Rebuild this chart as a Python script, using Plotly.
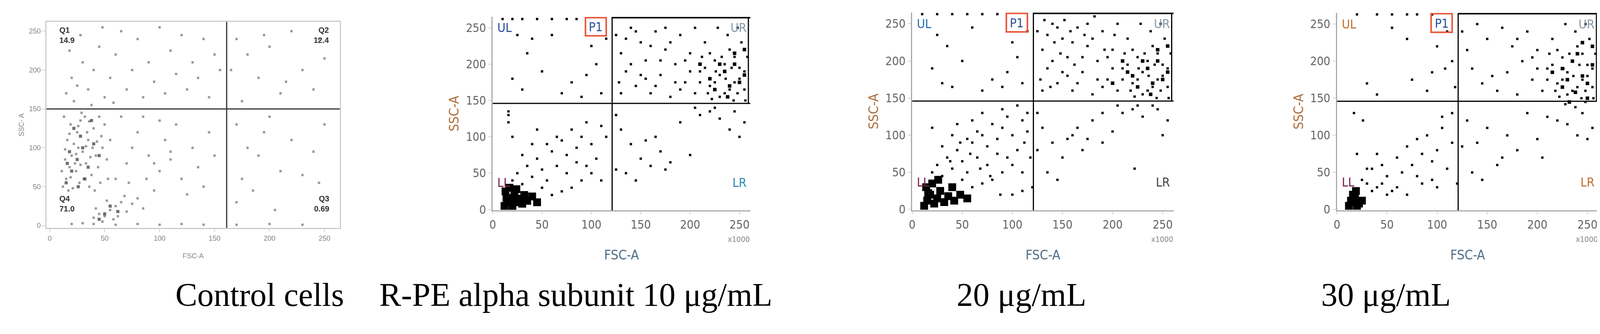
import plotly.graph_objects as go

# ---- data (FSC-A x1000, SSC-A x1000) ----
captions = ["Control cells", "R-PE alpha subunit 10 \u03bcg/mL", "20 \u03bcg/mL", "30 \u03bcg/mL"]
caption_x = [0.1048, 0.355, 0.633, 0.901]
tick_vals = [0, 50, 100, 150, 200, 250]
q1_labels = ["Q1", "Q2", "Q3", "Q4"]
q1_values = ["14.9", "12.4", "0.69", "71.0"]
gate_labels = ["UL", "UR", "LL", "LR"]

ctrl_pts = [(12,50),(15,60),(18,75),(20,90),(22,105),(25,120),(28,135),(14,85),(16,110),(19,130),(24,70),(27,55),
    (30,95),(33,80),(35,110),(38,65),(40,125),(42,90),(45,140),(13,140),(17,45),(21,48),(26,100),(31,60),(36,50),
    (44,75),(48,100),(50,130),(52,85),(29,145),(34,120),(39,100),(46,55),(23,80),(32,140),(11,70),(41,45),(47,115),
    (53,60),(55,110),(14,98),(19,62),(24,92),(28,78),(33,102),(37,88),(43,108),(18,118),(26,128),(36,134),
    (40,10),(45,15),(50,12),(55,20),(60,25),(48,5),(42,22),(58,8),(65,30),(70,18),(75,28),(52,32),(62,12),(68,38),
    (80,35),(85,22),(20,2),(30,3),(40,2),(60,1),(80,2),(100,1),(120,2),(140,1),(170,1),(200,2),(230,1),
    (60,60),(70,80),(75,100),(80,120),(90,90),(100,70),(105,110),(110,85),(115,130),(120,60),(130,100),(135,75),
    (140,50),(145,120),(150,90),(125,40),(95,45),(85,140),(65,140),(100,135),(110,95),(95,80),(88,60),(72,55),
    (15,170),(20,190),(25,180),(30,210),(35,175),(40,200),(45,230),(50,165),(55,190),(60,220),(65,250),(70,175),
    (75,200),(80,240),(85,165),(90,210),(95,185),(100,255),(105,170),(110,225),(115,195),(120,245),(125,175),
    (130,210),(135,190),(140,240),(145,165),(150,220),(155,200),(22,160),(38,155),(58,158),(18,225),(28,245),(48,255),
    (170,240),(180,220),(190,190),(200,230),(210,170),(220,250),(230,200),(240,175),(250,215),(175,160),(195,245),
    (215,185),(245,240),(165,200),(170,130),(180,100),(190,90),(200,140),(210,70),(220,110),(230,65),(240,95),
    (250,130),(175,60),(185,45),(195,120),(205,20),(170,30),(245,55)]
ctrl_dense = [(15,55),(20,70),(25,85),(30,100),(18,95),(28,115),(35,75),(22,125),(40,105),(32,60),(45,90),(16,80),(38,135),(26,50),
    (50,15),(55,25),(45,8),(62,18)]

d10_blob = [(12,5),(15,10),(18,15),(20,5),(22,20),(25,10),(28,15),(13,25),(30,8),(35,12),(17,30),(40,18),(24,28),(45,10),(14,16),(32,20)]
d10_pts = [(20,40),(25,50),(30,35),(35,60),(40,45),(45,70),(50,55),(55,40),(60,80),(65,60),(70,95),(75,75),(80,110),
    (85,85),(90,100),(95,120),(100,90),(105,70),(110,115),(115,100),(100,50),(90,40),(80,30),(70,25),(60,20),(50,30),
    (110,40),(95,60),(85,65),(75,50),(65,100),(55,90),(45,110),(40,90),(30,75),(20,100),(16,120),(16,130),(16,135),
    (20,180),(25,240),(40,235),(50,190),(60,240),(70,160),(80,175),(90,155),(95,185),(100,225),(110,160),(105,200),
    (115,235),(35,215),(30,165),(10,262),(20,262),(30,262),(45,262),(60,262),(75,262),(85,262),
    (125,240),(130,215),(135,190),(140,250),(145,170),(150,230),(155,205),(160,160),(165,245),(170,185),(175,220),
    (180,155),(185,200),(190,240),(195,175),(200,215),(205,160),(210,190),(215,230),(220,170),(225,205),(230,185),
    (235,160),(240,220),(245,175),(250,195),(255,165),(258,210),(228,250),(238,240),(248,250),(205,250),(215,195),
    (225,175),(235,200),(245,210),(250,180),(255,190),(240,165),(230,155),(220,215),(210,175),(200,190),(190,165),
    (180,230),(170,205),(160,225),(150,185),(140,200),(130,160),(128,175),(135,235),(145,245),(155,180),(165,170),
    (175,250),(185,175),(195,205),(232,210),(242,195),(252,230),(248,160),(236,180),(226,190),(218,160),(212,210),
    (256,150),(244,150),(222,152),(125,130),(130,110),(140,90),(150,70),(160,60),(170,80),(180,65),(190,120),(200,75),
    (210,130),(220,135),(230,125),(240,110),(250,100),(255,120),(135,50),(145,40),(165,100),(175,55),(205,140),
    (225,140),(245,135),(125,55),(155,95)]
d10_ur = [(220,180),(235,190),(245,200),(250,175),(240,170),(230,200),(255,185),(225,165),(245,215),(210,200),(255,220),(238,155)]

d20_blob = [(12,5),(15,12),(18,20),(22,8),(25,15),(28,25),(14,30),(32,10),(36,18),(20,35),(42,12),(48,20),(26,40),(40,30),(55,15),(16,22)]
d20_pts = [(20,50),(25,60),(30,45),(35,70),(40,55),(45,80),(50,65),(55,50),(60,90),(65,70),(70,100),(75,85),(80,115),
    (85,95),(90,110),(95,125),(100,100),(105,80),(110,120),(115,105),(100,60),(90,50),(80,40),(70,35),(60,30),(50,40),
    (110,50),(95,70),(85,75),(75,60),(65,105),(55,95),(45,115),(40,100),(30,85),(20,110),(60,120),(70,130),(90,135),
    (105,140),(115,130),(100,20),(110,25),(120,30),(88,20),(78,45),(68,55),(58,75),(48,90),(38,65),(112,90),(118,70),
    (20,190),(25,235),(35,220),(50,200),(60,245),(70,160),(80,175),(90,165),(95,185),(100,225),(110,170),(105,205),
    (115,240),(40,165),(30,170),(10,263),(25,263),(40,263),(55,263),(70,263),(85,263),
    (125,240),(130,215),(135,190),(140,250),(145,170),(150,230),(155,205),(160,160),(165,245),(170,185),(175,220),
    (180,155),(185,200),(190,240),(195,175),(200,215),(205,160),(210,190),(215,230),(220,170),(225,205),(230,185),
    (235,160),(240,220),(245,175),(250,195),(255,165),(258,210),(228,250),(238,240),(248,250),(205,250),(215,195),
    (225,175),(235,200),(245,210),(250,180),(255,190),(240,165),(230,155),(220,215),(210,175),(200,190),(190,165),
    (180,230),(170,205),(160,225),(150,185),(140,200),(130,160),(128,175),(135,235),(145,245),(155,180),(165,170),
    (175,250),(185,175),(195,205),(232,210),(242,195),(252,230),(248,160),(236,180),(226,190),(218,160),(212,210),
    (132,255),(142,225),(152,255),(162,195),(172,235),(182,260),(192,215),(202,235),(138,165),(148,210),(158,240),
    (256,150),(244,150),(222,152),(125,130),(130,110),(140,90),(150,70),(160,100),(170,80),(180,120),(190,130),
    (200,105),(210,130),(220,135),(230,125),(240,140),(250,100),(255,120),(135,50),(145,40),(165,110),(175,95),
    (205,140),(225,140),(245,135),(125,80),(155,95),(222,55),(190,90)]
d20_ur = [(220,180),(235,190),(245,200),(250,175),(240,170),(230,200),(255,185),(225,165),(245,215),(210,200),(255,220),(238,155),(200,170),(215,185)]

d30_blob = [(12,5),(15,10),(18,15),(20,5),(14,12),(22,8),(16,20),(25,12),(19,25)]
d30_pts = [(25,40),(30,35),(35,55),(40,30),(45,60),(50,45),(55,25),(60,70),(65,50),(70,85),(75,60),(80,95),(85,75),
    (90,100),(95,65),(100,80),(105,110),(110,55),(115,90),(70,20),(60,30),(50,20),(85,35),(95,40),(40,75),(30,55),
    (20,75),(26,120),(17,130),(115,130),(105,125),(120,35),(80,45),(100,30),(45,35),(35,25),
    (30,170),(40,155),(55,245),(70,230),(75,175),(90,160),(95,185),(100,220),(108,190),(110,240),(115,200),(118,165),
    (20,263),(40,263),(55,263),(70,263),(80,263),(95,263),
    (125,240),(130,215),(135,190),(140,250),(145,170),(150,230),(160,160),(165,245),(170,185),(175,220),(180,155),
    (185,200),(190,240),(195,175),(200,215),(205,160),(210,190),(215,230),(220,170),(225,205),(230,185),(235,160),
    (240,220),(245,175),(250,195),(255,165),(258,210),(228,250),(238,240),(248,250),(215,195),(225,175),(235,200),
    (245,210),(250,180),(255,190),(240,165),(230,155),(220,215),(210,175),(200,190),(180,230),(155,180),(195,205),
    (232,210),(242,195),(252,230),(248,160),(236,180),(226,190),(218,160),(212,210),(256,150),(244,150),(222,152),
    (228,142),(238,138),(248,145),(130,120),(140,90),(150,110),(160,60),(170,100),(180,80),(190,130),(200,95),
    (210,125),(220,120),(230,115),(240,100),(250,95),(255,110),(135,50),(145,40),(165,70),(205,70),(245,130),(125,85)]
d30_ur = [(225,190),(235,200),(245,180),(250,170),(240,210),(230,175),(255,195),(225,165),(245,225),(215,185),(255,220),(238,158),(250,150),(232,145)]

panels = [
    dict(pts=ctrl_pts, blob=ctrl_dense, ur=[], dom_x=[0.0248, 0.2078], dom_y=[0.3143, 0.9428], vline=161, hline=150, rng=[-3, 264], yrng=[-3, 262]),
    dict(pts=d10_pts, blob=d10_blob, ur=d10_ur, dom_x=[0.3031, 0.4638], dom_y=[0.368, 0.958], vline=121, hline=146, rng=[0, 261], yrng=[-1, 265]),
    dict(pts=d20_pts, blob=d20_blob, ur=d20_ur, dom_x=[0.5647, 0.7278], dom_y=[0.368, 0.971], vline=121, hline=146, rng=[0, 261], yrng=[-1, 265]),
    dict(pts=d30_pts, blob=d30_blob, ur=d30_ur, dom_x=[0.8296, 0.9927], dom_y=[0.368, 0.970], vline=121, hline=146, rng=[0, 261], yrng=[-1, 265]),
]
lr_colors = ["#2a8ab0", "#444444", "#c07030"]
ul_colors = ["#2a4f9a", "#2a6fb0", "#c07030"]

fig = go.Figure()
annotations = []
shapes = []
for i, p in enumerate(panels):
    xa = "x" if i == 0 else f"x{i+1}"
    ya = "y" if i == 0 else f"y{i+1}"
    ctrl = i == 0
    fig.add_trace(go.Scatter(x=[a for a, b in p["pts"]], y=[b for a, b in p["pts"]], mode="markers", xaxis=xa, yaxis=ya,
                             marker=dict(size=6, symbol="square", color="#555555" if ctrl else "black",
                                         opacity=0.6 if ctrl else 1), showlegend=False))
    if ctrl:
        fig.add_trace(go.Scatter(x=[a for a, b in p["blob"]], y=[b for a, b in p["blob"]], mode="markers", xaxis=xa, yaxis=ya,
                                 marker=dict(size=8, symbol="square", color="#333333", opacity=0.7), showlegend=False))
    else:
        fig.add_trace(go.Scatter(x=[a for a, b in p["blob"]], y=[b for a, b in p["blob"]], mode="markers", xaxis=xa, yaxis=ya,
                                 marker=dict(size=20, symbol="square", color="black"), showlegend=False))
        fig.add_trace(go.Scatter(x=[a for a, b in p["ur"]], y=[b for a, b in p["ur"]], mode="markers", xaxis=xa, yaxis=ya,
                                 marker=dict(size=9, symbol="square", color="black"), showlegend=False))
    fam = "DejaVu Sans Condensed" if not ctrl else "Liberation Sans"
    common = dict(tickvals=tick_vals, showgrid=False, zeroline=False, ticks="outside", showline=True,
                  linecolor="#aaaaaa" if not ctrl else "#cccccc", linewidth=3, mirror=ctrl,
                  tickfont=dict(family=fam, size=30 if not ctrl else 18, color="#666666" if not ctrl else "#888888"),
                  ticklen=8, tickcolor="#aaaaaa")
    axkw = dict(domain=p["dom_x"], range=p["rng"], anchor=ya,
                title=dict(text="FSC-A", standoff=50 if not ctrl else 30,
                           font=dict(size=34 if not ctrl else 18, color="#50708a" if not ctrl else "#888888", family=fam)),
                **common)
    aykw = dict(domain=p["dom_y"], range=p["yrng"], anchor=xa,
                title=dict(text="SSC-A" if not ctrl else "SSC- A", standoff=8,
                           font=dict(size=34 if not ctrl else 18, color="#b07040" if not ctrl else "#888888", family=fam)),
                **common)
    fig.update_layout(**{("xaxis" if i == 0 else f"xaxis{i+1}"): axkw, ("yaxis" if i == 0 else f"yaxis{i+1}"): aykw})

    lc = "#333333" if ctrl else "black"
    shapes.append(dict(type="line", xref=xa, yref=ya, x0=p["vline"], x1=p["vline"], y0=p["yrng"][0], y1=p["yrng"][1], line=dict(color=lc, width=3)))
    shapes.append(dict(type="line", xref=xa, yref=ya, x0=p["rng"][0], x1=p["rng"][1], y0=p["hline"], y1=p["hline"], line=dict(color=lc, width=3)))
    if ctrl:
        pos = [(8, 245, "left"), (255, 245, "right"), (255, 28, "right"), (8, 28, "left")]
        for (qx, qy, al), lab, val in zip(pos, q1_labels, q1_values):
            annotations.append(dict(x=qx, y=qy, xref=xa, yref=ya, text=f"<b>{lab}</b><br><b>{val}</b>", showarrow=False,
                                    xanchor=al, align=al, font=dict(size=20, color="#333333", family="Liberation Sans")))
    else:
        shapes.append(dict(type="line", xref=xa, yref=ya, x0=p["vline"], x1=p["rng"][1], y0=264, y1=264, line=dict(color="black", width=4)))
        shapes.append(dict(type="line", xref=xa, yref=ya, x0=259, x1=259, y0=p["hline"], y1=264, line=dict(color="black", width=3)))
        shapes.append(dict(type="rect", xref=xa, yref=ya, x0=94, x1=115, y0=239, y1=264, line=dict(color="#e8553a", width=4)))
        annotations.append(dict(x=104.5, y=251, xref=xa, yref=ya, text="P1", showarrow=False,
                                font=dict(size=32, color="#2a4f9a", family="DejaVu Sans Condensed")))
        fonts = dict(size=32, family="DejaVu Sans Condensed")
        annotations.append(dict(x=4, y=250, xref=xa, yref=ya, text="UL", showarrow=False, xanchor="left", font=dict(color=ul_colors[i-1], **fonts)))
        annotations.append(dict(x=258, y=250, xref=xa, yref=ya, text="UR", showarrow=False, xanchor="right", font=dict(color="#8899aa", **fonts)))
        annotations.append(dict(x=4, y=37, xref=xa, yref=ya, text="LL", showarrow=False, xanchor="left", font=dict(color="#7a2050", **fonts)))
        annotations.append(dict(x=258, y=37, xref=xa, yref=ya, text="LR", showarrow=False, xanchor="right", font=dict(color=lr_colors[i-1], **fonts)))
        annotations.append(dict(x=p["dom_x"][1], y=p["dom_y"][0] - 0.105, xref="paper", yref="paper", text="x1000", showarrow=False,
                                xanchor="right", font=dict(size=20, color="#888888", family="DejaVu Sans Condensed")))
    annotations.append(dict(x=caption_x[i], y=0.11, xref="paper", yref="paper", yanchor="middle", text=captions[i], showarrow=False,
                            font=dict(size=84, color="black", family="Liberation Serif")))

fig.update_layout(width=4114, height=856, margin=dict(l=0, r=0, t=0, b=0), paper_bgcolor="white", plot_bgcolor="white",
                  shapes=shapes, annotations=annotations)
fig.write_html("out.html")
